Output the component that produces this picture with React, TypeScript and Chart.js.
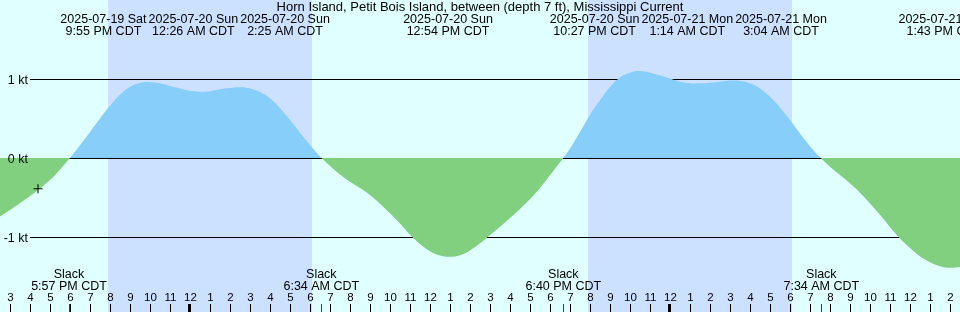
import React, { useEffect, useRef } from "react";
import { Chart, registerables } from "chart.js";

Chart.register(...registerables);

// ---------------- data ----------------
const TITLE = "Horn Island, Petit Bois Island, between (depth 7 ft), Mississippi Current";

const X_START = "07-19 14:30";
const X_END = "07-21 14:30";
const Y_MIN = -1.95;
const Y_MAX = 2.0;

// current speed (kt, + flood / - ebb), sampled every 30 minutes from X_START
const SAMPLE_STEP_MIN = 30;
const speedKt = [
  -0.74, -0.66, -0.57, -0.48, -0.385, -0.28, -0.145, 0.0, 0.16, 0.33,
  0.5, 0.66, 0.8, 0.9, 0.95, 0.96, 0.945, 0.91, 0.88, 0.85,
  0.84, 0.845, 0.87, 0.886, 0.895, 0.88, 0.835, 0.755, 0.63, 0.48,
  0.32, 0.165, 0.02, -0.1, -0.21, -0.3, -0.38, -0.47, -0.58, -0.7,
  -0.83, -0.97, -1.09, -1.18, -1.235, -1.25, -1.23, -1.17, -1.08, -0.975,
  -0.87, -0.76, -0.645, -0.52, -0.38, -0.22, -0.055, 0.12, 0.33, 0.545,
  0.73, 0.9, 1.02, 1.08, 1.1, 1.08, 1.045, 1.005, 0.965, 0.945,
  0.945, 0.953, 0.965, 0.98, 0.975, 0.945, 0.88, 0.775, 0.64, 0.48,
  0.31, 0.15, 0.01, -0.11, -0.215, -0.32, -0.44, -0.575, -0.72, -0.875,
  -1.02, -1.14, -1.245, -1.32, -1.37, -1.39, -1.38,
];

const peakTimes = ["07-19 21:55", "07-20 00:26", "07-20 02:25", "07-20 12:54", "07-20 22:27", "07-21 01:14", "07-21 03:04", "07-21 13:43"];
const peakDates = ["2025-07-19 Sat", "2025-07-20 Sun", "2025-07-20 Sun", "2025-07-20 Sun", "2025-07-20 Sun", "2025-07-21 Mon", "2025-07-21 Mon", "2025-07-21 Mon"];
const peakClock = ["9:55 PM CDT", "12:26 AM CDT", "2:25 AM CDT", "12:54 PM CDT", "10:27 PM CDT", "1:14 AM CDT", "3:04 AM CDT", "1:43 PM CDT"];

const slackTimes = ["07-19 17:57", "07-20 06:34", "07-20 18:40", "07-21 07:34"];
const slackClock = ["5:57 PM CDT", "6:34 AM CDT", "6:40 PM CDT", "7:34 AM CDT"];

const nightStarts = ["07-19 19:54", "07-20 19:54"];
const nightEnds = ["07-20 06:06", "07-21 06:06"];

const nowTime = "07-19 16:24";
const nowSpeed = -0.39;

const levelValues = [1, 0, -1];
const levelLabels = ["1 kt", "0 kt", "-1 kt"];

// ---------------- styles ----------------
const FAMILY = '"Liberation Sans", Arial, sans-serif';
const TITLE_FONT = `13px ${FAMILY}`;
const LABEL_FONT = `12.5px ${FAMILY}`;
const HOUR_FONT = `11.5px ${FAMILY}`;
const BG = "#E0FFFF";
const NIGHT = "#CCE0FF";
const FLOOD = "#87CEFA";
const EBB = "#80D080";
const SLACK_TICK = "#D00000";

const toHours = (s: string) => {
  const [md, hm] = s.split(" ");
  const day = Number(md.split("-")[1]);
  const [h, m] = hm.split(":").map(Number);
  return (day - 19) * 24 + h + m / 60;
};

const startH = toHours(X_START);
const endH = toHours(X_END);
const curve = speedKt.map((v, i) => ({ x: startH + (i * SAMPLE_STEP_MIN) / 60, y: v }));

function spreadLabels(centers: number[], widths: number[], gap: number) {
  let clusters: number[][] = centers.map((_, i) => [i]);
  const place = (cl: number[]) => {
    const mean = cl.reduce((a, i) => a + centers[i], 0) / cl.length;
    const total = cl.reduce((a, i) => a + widths[i], 0) + gap * (cl.length - 1);
    let left = mean - total / 2;
    const out: number[] = [];
    cl.forEach((i) => {
      out.push(left + widths[i] / 2);
      left += widths[i] + gap;
    });
    return { out, left: mean - total / 2, right: mean + total / 2 };
  };
  let changed = true;
  while (changed) {
    changed = false;
    for (let k = 0; k < clusters.length - 1; k++) {
      const a = place(clusters[k]);
      const b = place(clusters[k + 1]);
      if (a.right + gap > b.left) {
        clusters = [...clusters.slice(0, k), [...clusters[k], ...clusters[k + 1]], ...clusters.slice(k + 2)];
        changed = true;
        break;
      }
    }
  }
  const res: number[] = new Array(centers.length);
  clusters.forEach((cl) => {
    const p = place(cl);
    cl.forEach((i, j) => (res[i] = p.out[j]));
  });
  return res;
}

const decorPlugin = {
  id: "decor",
  beforeDraw(chart: any) {
    const { ctx, width, height } = chart;
    const xs = chart.scales.x;
    const ys = chart.scales.y;
    ctx.save();
    ctx.fillStyle = BG;
    ctx.fillRect(0, 0, width, height);
    ctx.fillStyle = NIGHT;
    nightStarts.forEach((s, i) => {
      const x0 = Math.round(xs.getPixelForValue(toHours(s)));
      const x1 = Math.round(xs.getPixelForValue(toHours(nightEnds[i])));
      ctx.fillRect(x0, 0, x1 - x0, height);
    });
    ctx.fillStyle = "#000";
    levelValues.forEach((v) => {
      const py = Math.round(ys.getPixelForValue(v));
      ctx.fillRect(30, py, width - 30, 1);
    });
    ctx.restore();
  },
  afterDraw(chart: any) {
    const { ctx, width, height } = chart;
    const xs = chart.scales.x;
    const ys = chart.scales.y;
    ctx.save();
    ctx.fillStyle = "#000";
    ctx.textBaseline = "alphabetic";

    // level labels
    ctx.font = LABEL_FONT;
    ctx.textAlign = "right";
    levelValues.forEach((v, i) => {
      const py = Math.round(ys.getPixelForValue(v));
      ctx.fillText(levelLabels[i], 28, py + 5);
    });

    // title
    ctx.font = TITLE_FONT;
    ctx.textAlign = "center";
    ctx.fillText(TITLE, width / 2, 11);

    // peak labels
    ctx.font = LABEL_FONT;
    const centers = peakTimes.map((t) => xs.getPixelForValue(toHours(t)));
    const widths = peakTimes.map((_, i) =>
      Math.max(ctx.measureText(peakDates[i]).width, ctx.measureText(peakClock[i]).width)
    );
    const pos = spreadLabels(centers, widths, 2);
    pos.forEach((cx, i) => {
      ctx.fillText(peakDates[i], cx, 23);
      ctx.fillText(peakClock[i], cx, 35);
    });

    // slack labels
    slackTimes.forEach((t, i) => {
      const cx = xs.getPixelForValue(toHours(t));
      ctx.fillText("Slack", cx, 278);
      ctx.fillText(slackClock[i], cx, 290);
    });

    // hour ticks
    ctx.font = HOUR_FONT;
    for (let h = Math.ceil(startH); h <= Math.floor(endH); h++) {
      const px = Math.round(xs.getPixelForValue(h));
      const hh = h % 12 === 0 ? 12 : h % 12;
      ctx.fillStyle = "#000";
      ctx.fillText(String(hh), px + 0.5, 301);
      if (h % 24 === 0) ctx.fillRect(px - 2, 304, 3, height - 304);
      else ctx.fillRect(px, 304, 1, height - 304);
    }
    ctx.fillStyle = SLACK_TICK;
    slackTimes.forEach((t) => {
      const px = Math.round(xs.getPixelForValue(toHours(t)));
      ctx.fillRect(px, 304, 1, height - 304);
    });
    ctx.restore();
  },
};

export default function App() {
  const ref = useRef<HTMLCanvasElement | null>(null);
  useEffect(() => {
    if (!ref.current) return;
    const chart = new Chart(ref.current, {
      type: "line",
      data: {
        datasets: [
          {
            data: curve,
            order: 1,
            borderWidth: 0,
            borderColor: "rgba(0,0,0,0)",
            pointRadius: 0,
            tension: 0.4,
            fill: { target: "origin", above: FLOOD, below: EBB },
          } as any,
          {
            type: "scatter",
            order: 0,
            data: [{ x: toHours(nowTime), y: nowSpeed }],
            pointStyle: "cross",
            pointRadius: 4.5,
            borderColor: "#000",
            borderWidth: 1,
          } as any,
        ],
      },
      options: {
        animation: false,
        responsive: false,
        maintainAspectRatio: false,
        devicePixelRatio: 1,
        events: [],
        layout: { padding: 0, autoPadding: false },
        plugins: { legend: { display: false }, tooltip: { enabled: false } },
        scales: {
          x: { type: "linear", min: startH, max: endH, display: false },
          y: { type: "linear", min: Y_MIN, max: Y_MAX, display: false },
        },
      },
      plugins: [decorPlugin],
    });
    return () => chart.destroy();
  }, []);
  return (
    <div style={{ position: "fixed", left: 0, top: 0, width: 960, height: 312 }}>
      <canvas ref={ref} width={960} height={312} style={{ display: "block" }} />
    </div>
  );
}
